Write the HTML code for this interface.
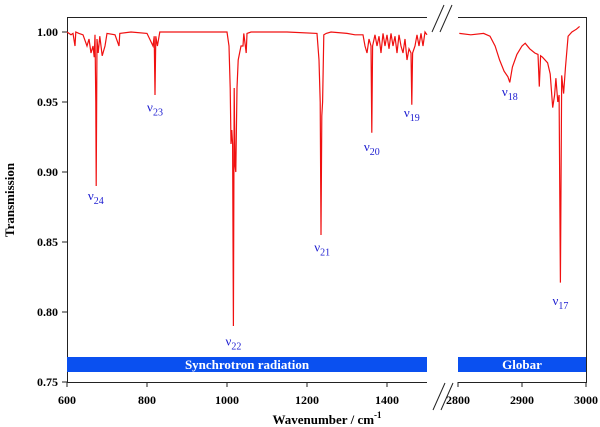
<!DOCTYPE html>
<html><head><meta charset="utf-8">
<style>
body{margin:0;background:#fff;}
svg{display:block;font-family:"Liberation Serif",serif;}
</style></head>
<body>
<svg id="chart" width="600" height="427" viewBox="0 0 600 427" xmlns="http://www.w3.org/2000/svg">
<g id="frame" stroke="#222" stroke-width="1" fill="none">
 <path d="M427,17.5 H67.5 V382.5 H427"/>
 <path d="M458,17.5 H586.5 V382.5 H458"/>
 <path d="M432,32 L444,5 M440,32 L452,5"/>
 <path d="M433,410 L445,383 M441,410 L453,383"/>
</g>
<g id="bands">
 <rect x="67" y="357" width="360" height="15" fill="#0a50f0"/>
 <text x="247" y="369" text-anchor="middle" fill="#fff" font-weight="bold" font-size="13">Synchrotron radiation</text>
 <rect x="458" y="357" width="128" height="15" fill="#0a50f0"/>
 <text x="522" y="369" text-anchor="middle" fill="#fff" font-weight="bold" font-size="13">Globar</text>
</g>
<g id="ticks"></g>
<g id="series"></g>
<g id="labels"></g>
<text transform="translate(14,200) rotate(-90)" text-anchor="middle" font-weight="bold" font-size="13">Transmission</text>
<text x="327" y="424" text-anchor="middle" font-weight="bold" font-size="13">Wavenumber / cm<tspan dy="-6" font-size="9">-1</tspan></text>
</svg>
<script>
const yTicks=[1.00,0.95,0.90,0.85,0.80,0.75];
const xTicksLeft=[600,800,1000,1200,1400];
const xTicksRight=[2800,2900,3000];
const leftWn=[600,605,610,615,620,622,630,640,650,655,660,665,668,670,672,673,675,678,682,688,695,700,720,730,732,760,800,810,815,818,820,822,826,832,900,1000,1005,1008,1010,1012,1014,1016,1018,1020,1022,1025,1028,1035,1040,1042,1048,1050,1060,1150,1225,1230,1233,1235,1237,1239,1242,1248,1260,1300,1320,1340,1345,1350,1355,1360,1362,1364,1370,1375,1380,1385,1390,1395,1400,1405,1410,1415,1420,1425,1430,1435,1440,1445,1450,1455,1460,1462,1464,1470,1475,1480,1485,1490,1495,1500];
const leftT=[1.0,0.999,0.998,0.999,0.99,1.0,0.999,0.998,0.99,0.995,0.985,0.99,0.982,0.998,0.95,0.89,0.995,0.985,0.997,0.983,0.99,0.999,0.998,0.99,0.999,1.0,0.999,0.993,0.99,0.997,0.955,0.997,0.99,1.0,1.0,1.0,0.99,0.96,0.92,0.93,0.92,0.79,0.96,0.905,0.9,0.96,0.98,0.99,0.99,0.999,0.985,0.999,1.0,1.0,0.999,0.98,0.95,0.855,0.94,0.95,0.998,0.999,1.0,0.999,0.998,0.998,0.99,0.985,0.995,0.99,0.928,0.99,0.998,0.99,0.997,0.985,0.999,0.99,0.998,0.988,0.999,0.99,0.997,0.985,0.998,0.99,0.985,0.995,0.98,0.988,0.985,0.948,0.985,0.99,0.998,0.99,0.999,0.99,1.0,0.998];
const rightWn=[2802,2820,2840,2850,2858,2865,2872,2878,2881,2885,2892,2900,2905,2912,2920,2925,2927,2929,2932,2940,2944,2948,2951,2953,2956,2958,2960,2962,2965,2968,2972,2978,2985,2990];
const rightT=[0.999,0.998,0.999,0.997,0.99,0.98,0.972,0.968,0.964,0.975,0.984,0.99,0.992,0.988,0.985,0.984,0.961,0.983,0.982,0.978,0.97,0.946,0.955,0.967,0.95,0.955,0.821,0.969,0.956,0.975,0.997,1.0,1.002,1.004];
const labelNames=["24","23","22","21","20","19","18","17"];
const labelWn=[672,820,1016,1238,1362,1462,2881,2960];
const labelT=[0.883,0.946,0.779,0.846,0.918,0.942,0.957,0.808];

const ns="http://www.w3.org/2000/svg";
const yS=v=>32+(1.0-v)*1400;
const xS=w=>w<2000?67+(w-600)*0.4:458+(w-2800)*0.64;
function mk(t,a,p){const e=document.createElementNS(ns,t);for(const k in a)e.setAttribute(k,a[k]);p.appendChild(e);return e;}
const tk=document.getElementById('ticks');
yTicks.forEach(v=>{
 const l=mk('line',{x1:62,x2:67,y1:yS(v),y2:yS(v),stroke:'#222'},tk);
 
 
 const t=mk('text',{x:58,y:yS(v)+4,'text-anchor':'end','font-weight':'bold','font-size':'12'},tk);
 t.textContent=v.toFixed(2);
 
 
});
xTicksLeft.concat(xTicksRight).forEach(w=>{
 const l=mk('line',{x1:xS(w),x2:xS(w),y1:382,y2:387,stroke:'#222'},tk);
 
 
 const t=mk('text',{x:xS(w),y:404,'text-anchor':'middle','font-weight':'bold','font-size':'12'},tk);
 t.textContent=w;
 
 
});
const se=document.getElementById('series');
function line(W,T,name){
 const pts=W.map((w,i)=>xS(w).toFixed(1)+','+yS(T[i]).toFixed(1)).join(' ');
 const p=mk('polyline',{points:pts,fill:'none',stroke:'#f01010','stroke-width':'1.2'},se);
 
 
}
line(leftWn,leftT,'spectrum-synchrotron');
line(rightWn,rightT,'spectrum-globar');
const lb=document.getElementById('labels');
labelNames.forEach((n,i)=>{
 const t=mk('text',{x:xS(labelWn[i]),y:yS(labelT[i])+4,'text-anchor':'middle',fill:'#1a1ad0','font-size':'13'},lb);
 t.innerHTML='ν<tspan dy="4" font-size="10">'+n+'</tspan>';
 
 
});
</script>
</body></html>
